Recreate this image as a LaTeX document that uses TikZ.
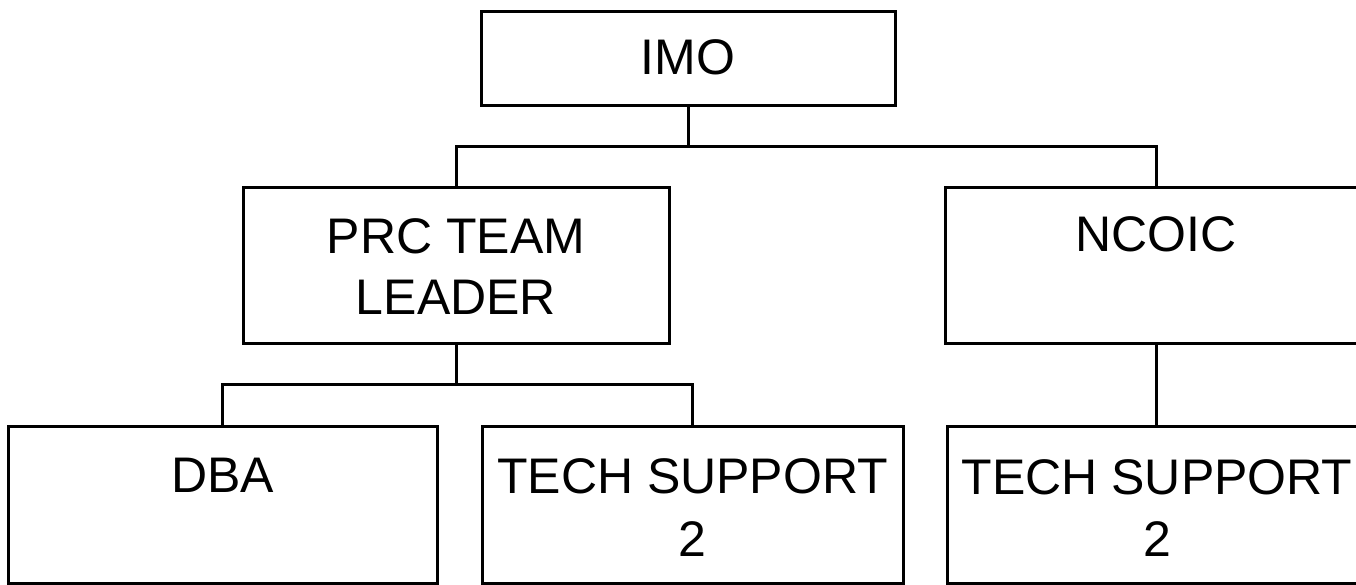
\documentclass[tikz,border=0pt]{standalone}
\usepackage{fontspec}
\setmainfont{Liberation Sans}
\newcommand{\bxt}[4]{\parbox[c][#1][t]{#2}{\centering\vspace*{#3}\strut #4\par}}
\begin{document}
\begin{tikzpicture}[x=1pt,y=-1pt,
  box/.style={draw=black, line width=3pt, inner sep=0pt, outer sep=0pt, font=\fontsize{50}{60}\selectfont},
  link/.style={draw=black, line width=3pt}]
\useasboundingbox (0,0) rectangle (1356,585);
\fill[white] (0,0) rectangle (1356,585);
\clip (0,0) rectangle (1356,585);
\node[box] (imo) at (688,59) {\bxt{94pt}{414pt}{21pt}{IMO}};
\node[box] (prc) at (456,265.5) {\bxt{155pt}{426pt}{24pt}{PRC TEAM\\LEADER}};
\node[box] (ncoic) at (1156,265.5) {\bxt{155pt}{422pt}{22pt}{NCOIC}};
\node[box] (dba) at (222.5,504.5) {\bxt{157pt}{429pt}{24pt}{DBA}};
\node[box] (ts1) at (692.5,504.5) {\bxt{157pt}{421pt}{25pt}{TECH SUPPORT\\[3pt]2}};
\node[box] (ts2) at (1157,504.5) {\bxt{157pt}{420pt}{26pt}{TECH SUPPORT\\[2pt]2}};
\draw[link] (imo.south) -- ++(0,41) -| (prc.north);
\draw[link] (imo.south) -- ++(0,41) -| (ncoic.north);
\draw[link] (prc.south) -- ++(0,41) -| (dba.north);
\draw[link] (prc.south) -- ++(0,41) -| (ts1.north);
\draw[link] (ncoic.south) -- (ncoic.south |- ts2.north);
\end{tikzpicture}
\end{document}
